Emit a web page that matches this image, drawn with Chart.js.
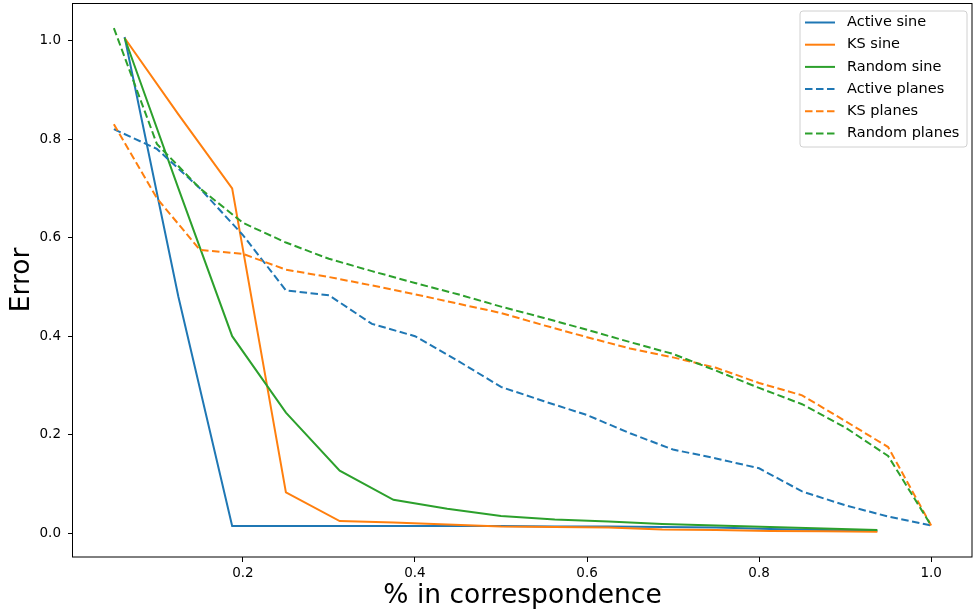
<!DOCTYPE html>
<html>
<head>
<meta charset="utf-8">
<script src="https://cdn.jsdelivr.net/npm/chart.js@4"></script>
<style>
  html, body { margin: 0; padding: 0; background: #fff; }
  #wrap { width: 975px; height: 613px; }
</style>
</head>
<body>
<div id="wrap"><canvas id="errChart"></canvas></div>
<script>
// x positions of the samples
const sineX = [0.0625, 0.125, 0.1875, 0.25, 0.3125, 0.375, 0.4375, 0.5, 0.5625, 0.625, 0.6875, 0.75, 0.8125, 0.875, 0.9375];
const planesX = [0.05, 0.1, 0.15, 0.2, 0.25, 0.3, 0.35, 0.4, 0.45, 0.5, 0.55, 0.6, 0.65, 0.7, 0.75, 0.8, 0.85, 0.9, 0.95, 1.0];

// error values
const activeSine = [1.007, 0.48, 0.015, 0.015, 0.015, 0.015, 0.015, 0.015, 0.014, 0.014, 0.013, 0.012, 0.009, 0.007, 0.005];
const ksSine = [1.005, 0.85, 0.70, 0.083, 0.025, 0.022, 0.018, 0.014, 0.013, 0.012, 0.008, 0.007, 0.005, 0.004, 0.003];
const randomSine = [1.005, 0.70, 0.40, 0.245, 0.127, 0.068, 0.05, 0.035, 0.028, 0.024, 0.019, 0.016, 0.013, 0.01, 0.007];
const activePlanes = [0.82, 0.78, 0.70, 0.605, 0.493, 0.483, 0.425, 0.40, 0.35, 0.297, 0.268, 0.24, 0.203, 0.17, 0.152, 0.132, 0.085, 0.057, 0.034, 0.016];
const ksPlanes = [0.83, 0.68, 0.575, 0.567, 0.535, 0.52, 0.503, 0.485, 0.466, 0.447, 0.422, 0.398, 0.375, 0.357, 0.336, 0.305, 0.28, 0.228, 0.175, 0.016];
const randomPlanes = [1.025, 0.79, 0.70, 0.63, 0.59, 0.557, 0.532, 0.508, 0.485, 0.46, 0.437, 0.413, 0.388, 0.364, 0.33, 0.295, 0.262, 0.215, 0.157, 0.016];

const xTicks = [0.2, 0.4, 0.6, 0.8, 1.0];
const yTicks = [0.0, 0.2, 0.4, 0.6, 0.8, 1.0];

const blue = '#1f77b4';
const orange = '#ff7f0e';
const green = '#2ca02c';
const dash = [7.5, 3.5];
const font = 'DejaVu Sans';

function pts(xs, ys) {
    return xs.map((x, i) => ({ x: x, y: ys[i] }));
}

function series(label, xs, ys, color, dashed, order) {
    return {
        label: label,
        data: pts(xs, ys),
        borderColor: color,
        backgroundColor: color,
        borderWidth: 2,
        borderDash: dashed ? dash : [],
        pointRadius: 0,
        tension: 0,
        fill: false,
        order: order
    };
}

// frame around the plot plus a matplotlib-like legend in the top right corner
const frameAndLegend = {
    id: 'frameAndLegend',
    afterDraw(chart) {
        const ctx = chart.ctx;
        const a = chart.chartArea;
        ctx.save();
        ctx.strokeStyle = '#000';
        ctx.lineWidth = 1;
        ctx.setLineDash([]);
        ctx.strokeRect(Math.round(a.left) - 0.5, Math.round(a.top) + 0.5,
            Math.round(a.right - a.left) + 0.5, Math.round(a.bottom - a.top) - 0.5);

        const bx = 800, by = 11, bw = 167, bh = 136, r = 3;
        ctx.beginPath();
        ctx.moveTo(bx + r, by);
        ctx.arcTo(bx + bw, by, bx + bw, by + bh, r);
        ctx.arcTo(bx + bw, by + bh, bx, by + bh, r);
        ctx.arcTo(bx, by + bh, bx, by, r);
        ctx.arcTo(bx, by, bx + bw, by, r);
        ctx.closePath();
        ctx.fillStyle = 'rgba(255,255,255,0.8)';
        ctx.fill();
        ctx.strokeStyle = '#d0d0d0';
        ctx.stroke();

        ctx.font = '14.5px "' + font + '"';
        ctx.textBaseline = 'middle';
        ctx.textAlign = 'left';
        chart.data.datasets.forEach((ds, i) => {
            const y = 22.5 + i * 22.2;
            ctx.strokeStyle = ds.borderColor;
            ctx.lineWidth = 2;
            ctx.setLineDash(ds.borderDash);
            ctx.beginPath();
            ctx.moveTo(805, y);
            ctx.lineTo(835, y);
            ctx.stroke();
            ctx.fillStyle = '#000';
            ctx.fillText(ds.label, 847, y);
        });
        ctx.restore();
    }
};

const errChartContext = document.getElementById('errChart').getContext('2d');
const errChart = new Chart(errChartContext, {
    type: 'line',
    data: {
        datasets: [
            series('Active sine', sineX, activeSine, blue, false, 5),
            series('KS sine', sineX, ksSine, orange, false, 4),
            series('Random sine', sineX, randomSine, green, false, 3),
            series('Active planes', planesX, activePlanes, blue, true, 2),
            series('KS planes', planesX, ksPlanes, orange, true, 1),
            series('Random planes', planesX, randomPlanes, green, true, 0)
        ]
    },
    options: {
        responsive: true,
        maintainAspectRatio: false,
        animation: false,
        layout: { padding: { top: 3, right: 3, left: 0, bottom: 0 } },
        plugins: {
            legend: { display: false },
            tooltip: { enabled: false }
        },
        scales: {
            x: {
                type: 'linear',
                min: 0.0025,
                max: 1.0475,
                afterBuildTicks: (axis) => { axis.ticks = xTicks.map(v => ({ value: v })); },
                afterFit: (axis) => {
                    axis.height = 56;
                    axis.paddingLeft = 0;
                    axis.paddingRight = 0;
                },
                border: { display: false },
                grid: { drawOnChartArea: false, tickLength: 5, tickColor: '#000', tickWidth: 1 },
                ticks: {
                    color: '#000',
                    padding: 3,
                    maxRotation: 0,
                    font: { family: font, size: 13.5 },
                    callback: (v) => v.toFixed(1)
                },
                title: {
                    display: true,
                    text: '% in correspondence',
                    color: '#000',
                    font: { family: font, size: 26.5 },
                    padding: { top: 0, bottom: 1 }
                }
            },
            y: {
                type: 'linear',
                min: -0.048,
                max: 1.076,
                afterBuildTicks: (axis) => { axis.ticks = yTicks.map(v => ({ value: v })); },
                afterFit: (axis) => {
                    axis.width = 73;
                    axis.paddingTop = 0;
                    axis.paddingBottom = 0;
                },
                border: { display: false },
                grid: { drawOnChartArea: false, tickLength: 5, tickColor: '#000', tickWidth: 1 },
                ticks: {
                    color: '#000',
                    padding: 7,
                    font: { family: font, size: 13.5 },
                    callback: (v) => v.toFixed(1)
                },
                title: {
                    display: true,
                    text: 'Error',
                    color: '#000',
                    font: { family: font, size: 26.5 },
                    padding: { top: 6, bottom: 0 }
                }
            }
        }
    },
    plugins: [frameAndLegend]
});
</script>
</body>
</html>
